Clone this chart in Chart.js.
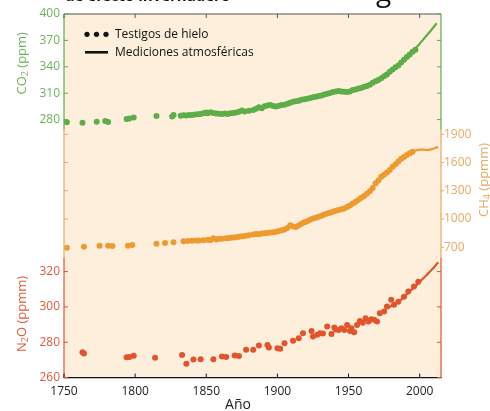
<!DOCTYPE html>
<html><head><meta charset="utf-8">
<script src="https://cdn.jsdelivr.net/npm/chart.js@4.4.1/dist/chart.umd.min.js"></script>
<style>html,body{margin:0;padding:0;background:#fff}</style>
</head><body>
<canvas id="c" width="490" height="411"></canvas>
<script>
// ---------- DATA ----------
const xTicks = [1750, 1800, 1850, 1900, 1950, 2000];
const co2Ticks = [280, 310, 340, 370, 400];
const ch4Ticks = [700, 1000, 1300, 1600, 1900];
const n2oTicks = [260, 280, 300, 320];

const co2IceYears = [1752,1763,1773,1779,1781,1794,1796,1799,1815,1826,1827,1832,1834,1836,1838,1840,1842,1844,1846,1848,1850,1851,1853,1855,1857,1859,1861,1863,1865,1867,1869,1871,1873,1875,1877,1880,1883,1885,1887,1889,1891,1893,1895,1897,1899,1901,1903,1905,1907,1909,1911,1913,1915,1917,1919,1921,1923,1925,1927,1929,1931,1933,1935,1937,1939,1941,1943,1945,1947,1949,1951,1953,1955,1957,1959,1961,1963,1965,1967,1969,1971,1973,1975,1977,1979,1981,1983,1985,1987,1989,1991,1993,1995,1997];
const co2IceValues = [277.0,276.5,277.5,278.5,277.2,280.8,281.2,282.3,284.0,283.6,285.2,284.3,285.0,284.6,285.3,285.1,285.8,286.0,286.4,287.3,288.0,287.2,288.3,287.4,287.0,286.6,286.3,286.8,286.5,287.2,287.6,288.0,288.8,290.2,289.2,290.0,290.9,292.4,293.9,293.0,295.2,296.0,296.5,295.5,294.8,295.8,296.5,297.0,298.0,299.2,300.3,300.8,301.5,302.5,303.2,303.8,304.6,305.3,306.0,306.8,307.5,308.4,309.5,310.3,311.4,311.9,312.6,312.0,311.6,311.3,312.0,313.6,314.2,315.3,316.0,317.4,318.2,319.5,321.8,323.5,325.0,327.0,329.2,331.2,334.5,337.0,339.5,341.5,345.0,348.0,351.0,354.0,357.0,359.5];
const co2AtmYears = [1958,1962,1966,1970,1974,1978,1982,1986,1990,1994,1998,2002,2006,2010,2012];
const co2AtmValues = [315.5,318,321,325,329,333,338,343.5,350,356,362.5,370,377.5,385.5,389.5];

const ch4IceYears = [1752,1764,1775,1781,1784,1795,1798,1815,1821,1827,1834,1837,1840,1843,1845,1848,1851,1853,1855,1857,1859,1861,1864,1866,1868,1870,1872,1874,1876,1878,1880,1883,1885,1887,1889,1891,1893,1895,1897,1899,1901,1903,1905,1907,1909,1911,1913,1915,1917,1919,1921,1923,1925,1927,1929,1931,1933,1935,1937,1939,1941,1943,1945,1947,1949,1951,1953,1955,1957,1959,1961,1963,1965,1967,1969,1971,1973,1975,1977,1979,1981,1983,1985,1987,1989,1991,1993,1995];
const ch4IceValues = [696,706,717,717,714,717,724,738,745,753,765,767,769,772,771,775,780,778,796,784,790,792,796,800,805,803,810,815,818,822,828,836,840,838,846,850,852,856,860,866,872,880,890,905,935,922,915,932,950,966,978,992,1005,1015,1025,1036,1048,1058,1068,1078,1088,1095,1104,1112,1128,1145,1165,1185,1205,1225,1245,1268,1295,1330,1380,1410,1450,1470,1495,1522,1555,1582,1610,1640,1660,1680,1700,1716];
const ch4AtmYears = [1984,1987,1990,1993,1996,1999,2002,2005,2008,2011,2013];
const ch4AtmValues = [1600,1638,1670,1700,1722,1735,1738,1734,1740,1755,1764];

const n2oIceYears = [1763,1764,1794,1796,1799,1814,1833,1836,1841,1846,1855,1861,1864,1870,1873,1878,1883,1887,1893,1894,1900,1902,1905,1911,1915,1918,1924,1925,1928,1930,1932,1935,1938,1940,1941,1943,1945,1947,1949,1951,1952,1954,1956,1958,1960,1962,1964,1966,1968,1970,1972,1975,1977,1980,1982,1985,1989,1992,1996,1999];
const n2oIceValues = [274.4,273.6,271.5,271.7,272.3,271.2,272.8,267.9,270.2,270.4,270.4,271.9,271.6,272.5,272.2,275.7,275.7,278.1,278.5,277.0,276.6,276.3,279.5,280.8,282.3,285.1,286.4,283.2,284.2,285.1,285.0,288.9,284.7,288.3,287.2,287.0,288.0,287.0,289.8,286.4,288.0,285.7,289.8,292.1,291.0,293.6,291.7,293.0,292.7,291.7,296.4,297.4,300.2,304.0,301.2,303.0,305.8,308.7,311.5,314.3];
const n2oAtmYears = [1978,1982,1986,1990,1994,1998,2002,2006,2010,2013];
const n2oAtmValues = [299.5,301.5,303.5,306.5,309.5,312.5,315.8,319,322.3,325.3];

// ---------- STYLE ----------
const FONT = "'Open Sans', 'DejaVu Sans', sans-serif";
const BG = '#FDEFDC';
const GREEN = '#5DAE48', GREEN_T = '#6CB35B';
const ORANGE = '#EE9A2E', ORANGE_T = '#E9A862';
const RED = '#E2542A', RED_T = '#DF5B3B';

const pts = (xs, ys) => xs.map((x, i) => ({ x: x, y: ys[i] }));

function dots(data, color, axis) {
  return { type: 'scatter', data, yAxisID: axis, backgroundColor: color, borderColor: color,
    pointRadius: 3, pointHoverRadius: 3, borderWidth: 0, showLine: false };
}
function line(data, color, axis) {
  return { type: 'line', data, yAxisID: axis, borderColor: color, borderWidth: 2.2,
    pointRadius: 0, fill: false, tension: 0.3, showLine: true };
}

function fixedTicks(list) {
  return function (scale) { scale.ticks = list.map(v => ({ value: v })); };
}
const plain = v => String(v);

function rich(ctx, parts, x, y, angle, color) {
  ctx.save();
  ctx.translate(x, y);
  ctx.rotate(angle);
  ctx.fillStyle = color;
  ctx.textAlign = 'left';
  ctx.textBaseline = 'middle';
  let w = 0;
  parts.forEach(p => { ctx.font = p.f; w += ctx.measureText(p.t).width; });
  let cx = -w / 2;
  parts.forEach(p => { ctx.font = p.f; ctx.fillText(p.t, cx, p.dy || 0); cx += ctx.measureText(p.t).width; });
  ctx.restore();
}

const frame = {
  id: 'frame',
  beforeDraw(chart) {
    const { ctx, chartArea: a } = chart;
    ctx.save();
    ctx.fillStyle = '#fff';
    ctx.fillRect(0, 0, chart.width, chart.height);
    ctx.fillStyle = BG;
    ctx.fillRect(a.left, a.top, a.right - a.left, a.bottom - a.top);
    ctx.restore();
  },
  afterDraw(chart) {
    const { ctx, chartArea: a, scales: s } = chart;
    const yC = s.yCO2, yM = s.yCH4, yN = s.yN2O, x = s.x;
    const seg1 = yC.getPixelForValue(268);
    const seg2 = yN.getPixelForValue(328);
    ctx.save();
    ctx.lineWidth = 1.2;
    [a.left, a.right].forEach(px => {
      [[a.top, seg1, GREEN], [seg1, seg2, ORANGE_T], [seg2, a.bottom, RED]].forEach(([y0, y1, c]) => {
        ctx.strokeStyle = c; ctx.beginPath(); ctx.moveTo(px, y0); ctx.lineTo(px, y1); ctx.stroke();
      });
    });
    ctx.strokeStyle = '#555'; ctx.beginPath(); ctx.moveTo(a.left, a.top); ctx.lineTo(a.right, a.top); ctx.stroke();
    ctx.strokeStyle = '#111'; ctx.beginPath(); ctx.moveTo(a.left - 0.5, a.bottom); ctx.lineTo(a.right + 0.5, a.bottom); ctx.stroke();
    ctx.lineWidth = 1;
    const tk = 4;
    xTicks.forEach(v => {
      const px = x.getPixelForValue(v);
      ctx.strokeStyle = '#555'; ctx.beginPath(); ctx.moveTo(px, a.top); ctx.lineTo(px, a.top + tk); ctx.stroke();
      ctx.strokeStyle = '#111'; ctx.beginPath(); ctx.moveTo(px, a.bottom); ctx.lineTo(px, a.bottom - tk); ctx.stroke();
    });
    co2Ticks.forEach(v => {
      const py = yC.getPixelForValue(v);
      ctx.strokeStyle = GREEN;
      ctx.beginPath(); ctx.moveTo(a.left, py); ctx.lineTo(a.left + tk, py); ctx.stroke();
      ctx.beginPath(); ctx.moveTo(a.right, py); ctx.lineTo(a.right - tk, py); ctx.stroke();
    });
    ch4Ticks.forEach(v => {
      const py = yM.getPixelForValue(v);
      ctx.strokeStyle = ORANGE_T;
      ctx.beginPath(); ctx.moveTo(a.left, py); ctx.lineTo(a.left + tk, py); ctx.stroke();
      ctx.beginPath(); ctx.moveTo(a.right, py); ctx.lineTo(a.right + 3, py); ctx.stroke();
    });
    // N2O ticks both sides inward, with labels on the left
    ctx.font = '12px ' + FONT;
    ctx.textAlign = 'right';
    ctx.textBaseline = 'middle';
    ctx.fillStyle = RED_T;
    n2oTicks.forEach(v => {
      const py = yN.getPixelForValue(v);
      ctx.strokeStyle = RED;
      ctx.beginPath(); ctx.moveTo(a.left, py); ctx.lineTo(a.left + tk, py); ctx.stroke();
      ctx.beginPath(); ctx.moveTo(a.right, py); ctx.lineTo(a.right - tk, py); ctx.stroke();
      ctx.fillText(String(v), a.left - 4, py);
    });
    const up = -Math.PI / 2;
    rich(ctx, [{ t: 'CO', f: '13px ' + FONT }, { t: '2', f: '9px ' + FONT, dy: 3 }, { t: ' (ppm)', f: '13px ' + FONT }],
      22, yC.getPixelForValue(344), up, GREEN_T);
    rich(ctx, [{ t: 'N', f: '13px ' + FONT }, { t: '2', f: '9px ' + FONT, dy: 3 }, { t: 'O (ppmm)', f: '13px ' + FONT }],
      22, yN.getPixelForValue(296), up, RED_T);
    rich(ctx, [{ t: 'CH', f: '13px ' + FONT }, { t: '4', f: '9px ' + FONT, dy: 3 }, { t: ' (ppmm)', f: '13px ' + FONT }],
      484, yM.getPixelForValue(1415), up, ORANGE_T);
    ctx.fillStyle = '#222';
    ctx.font = '14px ' + FONT;
    ctx.textAlign = 'center';
    ctx.textBaseline = 'alphabetic';
    ctx.fillText('Año', 238, 409);
    ctx.textAlign = 'left';
    ctx.textBaseline = 'middle';
    ctx.fillStyle = '#111';
    [87, 96.5, 106].forEach(cx => { ctx.beginPath(); ctx.arc(cx, 34.3, 2.6, 0, Math.PI * 2); ctx.fill(); });
    ctx.strokeStyle = '#111'; ctx.lineWidth = 2.6;
    ctx.beginPath(); ctx.moveTo(85, 52.3); ctx.lineTo(108, 52.3); ctx.stroke();
    ctx.font = '12px ' + FONT;
    ctx.fillText('Testigos de hielo', 115, 34.3);
    ctx.fillText('Mediciones atmosféricas', 115, 52.3);
    ctx.textBaseline = 'alphabetic';
    ctx.font = 'bold 15px ' + FONT;
    ctx.fillText('de efecto invernadero', 65, 1);
    ctx.font = '28px ' + FONT;
    ctx.fillText('g', 376, 1);
    ctx.restore();
  }
};

const tickFont = { family: FONT, size: 12 };

new Chart(document.getElementById('c'), {
  data: {
    datasets: [
      line(pts(co2AtmYears, co2AtmValues), GREEN, 'yCO2'),
      dots(pts(co2IceYears, co2IceValues), GREEN, 'yCO2'),
      line(pts(ch4AtmYears, ch4AtmValues), ORANGE, 'yCH4'),
      dots(pts(ch4IceYears, ch4IceValues), ORANGE, 'yCH4'),
      line(pts(n2oAtmYears, n2oAtmValues), RED, 'yN2O'),
      dots(pts(n2oIceYears, n2oIceValues), RED, 'yN2O')
    ]
  },
  options: {
    responsive: false,
    animation: false,
    events: [],
    layout: { padding: { top: 14, left: 0, right: 0, bottom: 0 } },
    plugins: { legend: { display: false }, tooltip: { enabled: false } },
    scales: {
      x: {
        type: 'linear', position: 'bottom', min: 1750, max: 2015,
        afterBuildTicks: fixedTicks(xTicks),
        afterFit: s => { s.height = 33.4; },
        grid: { display: false, drawTicks: false }, border: { display: false },
        ticks: { color: '#222', font: tickFont, padding: 7, maxRotation: 0, callback: plain }
      },
      yCO2: {
        type: 'linear', position: 'left', min: -13.2, max: 400,
        afterBuildTicks: fixedTicks(co2Ticks),
        afterFit: s => { s.width = 64; },
        grid: { display: false, drawTicks: false }, border: { display: false },
        ticks: { color: GREEN_T, font: tickFont, padding: 4, callback: plain }
      },
      yN2O: {
        type: 'linear', position: 'left', display: false, min: 260, max: 465.8,
        afterBuildTicks: fixedTicks(n2oTicks)
      },
      yCH4: {
        type: 'linear', position: 'right', min: -683.6, max: 3177.5,
        afterBuildTicks: fixedTicks(ch4Ticks),
        afterFit: s => { s.width = 49; },
        grid: { display: false, drawTicks: false }, border: { display: false },
        ticks: { color: ORANGE_T, font: tickFont, padding: 3, callback: plain }
      }
    }
  },
  plugins: [frame]
});
</script>
</body></html>
